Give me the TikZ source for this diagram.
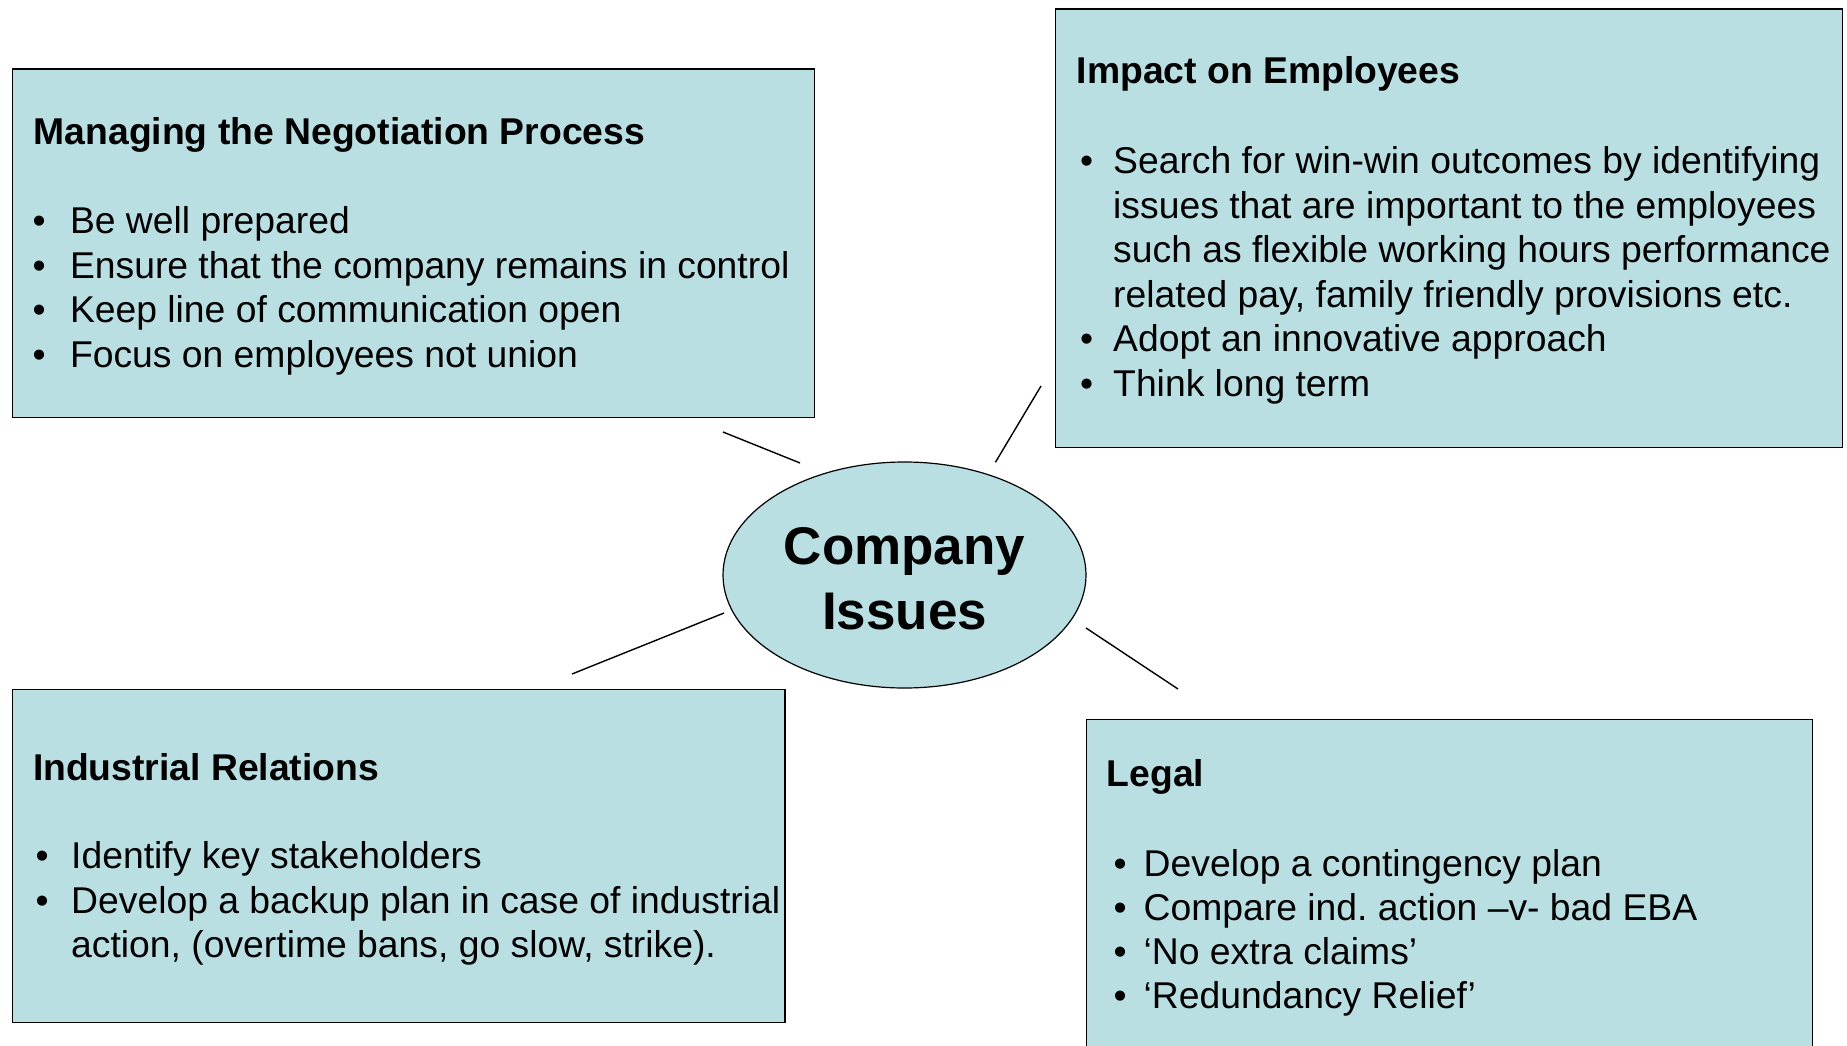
\documentclass[tikz,border=0pt]{standalone}
\usepackage{fontspec}
\setmainfont{Liberation Sans}
\usetikzlibrary{shapes.geometric}
\definecolor{panelfill}{RGB}{186,223,227}
\frenchspacing
\begin{document}
\begin{tikzpicture}[x=1pt,y=-1pt,
  panel/.style={draw=black, line width=1.4pt, fill=panelfill, rectangle, inner sep=0pt, anchor=north west},
  hub/.style={draw=black, line width=1.2pt, fill=panelfill, ellipse, inner sep=0pt,
    minimum width=363pt, minimum height=226pt, align=center,
    font=\fontsize{53}{65}\selectfont\bfseries},
  head/.style={anchor=base west, inner sep=0pt, font=\fontsize{37.3}{44.6}\selectfont\bfseries},
  txt/.style={anchor=base west, inner sep=0pt, font=\fontsize{37.3}{44.6}\selectfont},
  spoke/.style={line width=1.4pt, draw=black}]
\useasboundingbox (0,0) rectangle (1847,1046);
\fill[white] (0,0) rectangle (1847,1046);

% the four topic panels
\node[panel, minimum width=802.2pt, minimum height=348.2pt] (mng) at (11.8,68.3) {};
\node[panel, minimum width=786.5pt, minimum height=438pt] (imp) at (1055,8.5) {};
\node[panel, minimum width=772.8pt, minimum height=333pt] (ind) at (11.5,688.5) {};
\begin{scope}
  \clip (0,0) rectangle (1847,1046);
  \node[panel, minimum width=726pt, minimum height=345pt] (leg) at (1086,719) {};
\end{scope}

% central topic (the strut lowers the two lines a little inside the ellipse)
\node[hub] (hub) at (904.5,575) {\rule{0pt}{45pt}Company\hspace{14pt}\\Issues};

% spokes (free-standing short strokes around the hub)
\coordinate (s1a) at (723,432);    \coordinate (s1b) at (800,463);
\coordinate (s2a) at (995.4,462.3);\coordinate (s2b) at (1041,386);
\coordinate (s3a) at (572,674);    \coordinate (s3b) at (724,613);
\coordinate (s4a) at (1086,628);   \coordinate (s4b) at (1178,689);
\draw[spoke] (s1a) -- (s1b);
\draw[spoke] (s2a) -- (s2b);
\draw[spoke] (s3a) -- (s3b);
\draw[spoke] (s4a) -- (s4b);

% Managing the Negotiation Process
\node[head] (mng-h) at (33.5,145) {Managing the Negotiation Process};
\foreach \t [count=\i from 0] in {Be well prepared,
    Ensure that the company remains in control,
    Keep line of communication open,
    Focus on employees not union}{
  \node[txt] (mng-d\i) at (32.5,233.5+44.5*\i) {•};
  \node[txt] (mng-t\i) at (69.8,233.5+44.5*\i) {\t};
}

% Impact on Employees
\node[head] (imp-h) at (1076.5,83.5) {Impact on Employees};
\node[txt] (imp-d0) at (1080,173.5) {•};
\node[txt] (imp-d1) at (1080,351.9) {•};
\node[txt] (imp-d2) at (1080,396.5) {•};
\foreach \t [count=\i from 0] in {Search for win-win outcomes by identifying,
    issues that are important to the employees,
    such as flexible working hours performance,
    {related pay, family friendly provisions etc.},
    Adopt an innovative approach,
    Think long term}{
  \node[txt] (imp-t\i) at (1113,173.5+44.6*\i) {\t};
}

% Industrial Relations
\node[head] (ind-h) at (32.8,780) {Industrial Relations};
\node[txt] (ind-d0) at (35.5,868.5) {•};
\node[txt] (ind-d1) at (35.5,913) {•};
\node[txt] (ind-t0) at (71,868.5) {Identify key stakeholders};
\node[txt] (ind-t1) at (71,913) {Develop a backup plan in case of industrial};
\node[txt] (ind-t2) at (71,957.5) {action, (overtime bans, go slow, strike).};

% Legal
\node[head] (leg-h) at (1106.5,786.7) {Legal};
\foreach \t [count=\i from 0] in {Develop a contingency plan,
    Compare ind. action –v- bad EBA,
    ‘No extra claims’,
    ‘Redundancy Relief’}{
  \node[txt] (leg-d\i) at (1113.5,876.5+44*\i) {•};
  \node[txt] (leg-t\i) at (1143.5,876.5+44*\i) {\t};
}
\end{tikzpicture}
\end{document}
